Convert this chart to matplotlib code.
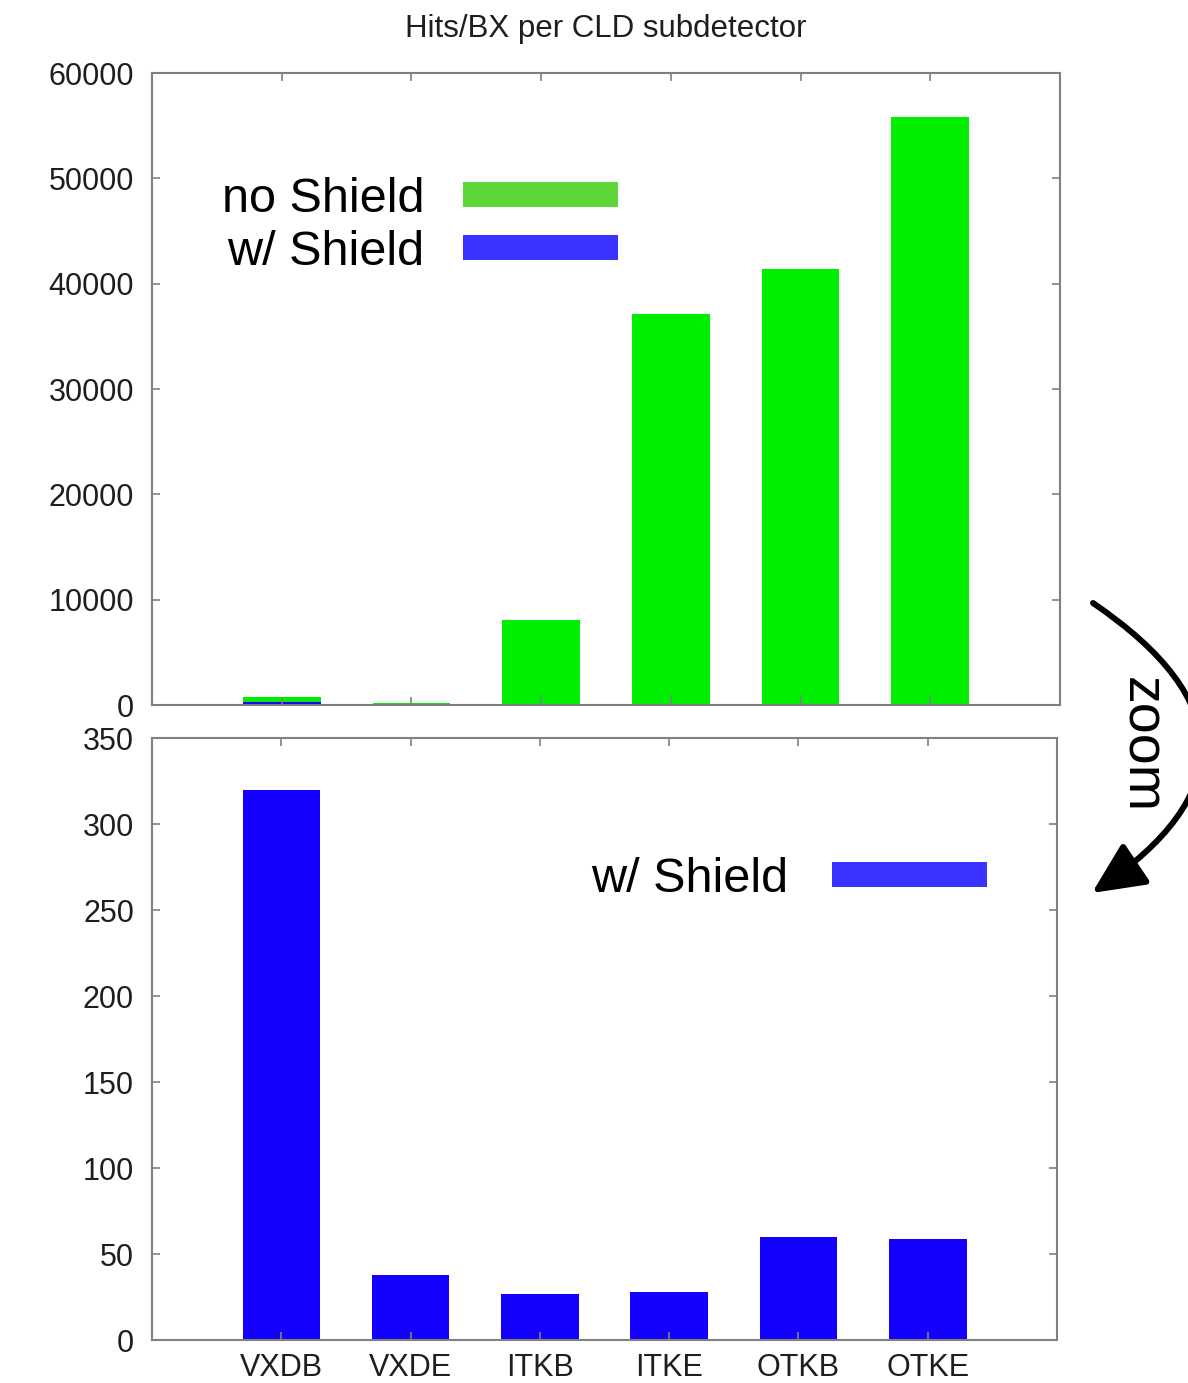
import matplotlib.pyplot as plt
from matplotlib.patches import Patch, FancyArrowPatch

plt.rcParams["font.family"] = ["Liberation Sans", "DejaVu Sans"]

subdetectors = ["VXDB", "VXDE", "ITKB", "ITKE", "OTKB", "OTKE"]
hits_no_shield = [750, 150, 8100, 37100, 41400, 55800]
hits_with_shield = [320, 38, 27, 28, 60, 59]

GREEN = "#00ee00"
BLUE = "#1300ff"
LEG_GREEN = "#5ed63a"
LEG_BLUE = "#3a33ff"
FRAME = "#808080"
TEXT = "#1e1e1e"

W, H = 1188, 1383
fig = plt.figure(figsize=(W / 100, H / 100), dpi=100)

ax_top = fig.add_axes([152 / W, 1 - 705 / H, 908 / W, 632 / H])
ax_bot = fig.add_axes([152 / W, 1 - 1340 / H, 905 / W, 602 / H])

x = list(range(1, len(subdetectors) + 1))
width = 0.6

ax_top.bar(x, hits_no_shield, width=width, color=GREEN)
ax_top.bar(x, hits_with_shield, width=width, color=BLUE)
ax_bot.bar(x, hits_with_shield, width=width, color=BLUE)

ax_top.set_ylim(0, 60000)
ax_top.set_yticks(range(0, 60001, 10000))
ax_bot.set_ylim(0, 350)
ax_bot.set_yticks(range(0, 351, 50))

for ax in (ax_top, ax_bot):
    ax.set_xlim(0, 7)
    ax.set_xticks(x)
    for s in ax.spines.values():
        s.set_color(FRAME)
        s.set_linewidth(1.5)
    ax.tick_params(direction="in", length=6, width=1.2, color=FRAME,
                   top=True, right=True, labelsize=22, labelcolor=TEXT)
    ax.tick_params(axis="y", pad=13)

ax_top.tick_params(labelbottom=False)
ax_bot.tick_params(axis="x", pad=9)
ax_bot.set_xticklabels(subdetectors)

# legends: label on the left, colour swatch on the right
h_no = Patch(facecolor=LEG_GREEN, edgecolor="none")
h_w = Patch(facecolor=LEG_BLUE, edgecolor="none")
leg_kw = dict(loc="upper left", frameon=False, markerfirst=False,
              fontsize=35, handlelength=3.19, handleheight=0.41,
              borderpad=0, borderaxespad=0)
ax_top.legend([h_no, h_w], ["no Shield", "w/ Shield"],
              bbox_to_anchor=(0.077, 0.835), handletextpad=0.8,
              labelspacing=0.15, **leg_kw)
ax_bot.legend([h_w], ["w/ Shield"], bbox_to_anchor=(0.485, 0.802),
              handletextpad=0.9, **leg_kw)

fig.text(606 / W, 1 - 29 / H, "Hits/BX per CLD subdetector", ha="center",
         va="center", fontsize=22.5, color=TEXT)

# curved "zoom" arrow between the panels
arrow = FancyArrowPatch((1093 / W, 1 - 603 / H), (1092 / W, 1 - 893 / H),
                        transform=fig.transFigure,
                        connectionstyle="arc3,rad=-0.74",
                        arrowstyle="-|>,head_length=1.0,head_width=0.47",
                        mutation_scale=32, linewidth=4.3, color="black",
                        shrinkA=0, shrinkB=0)
fig.patches.append(arrow)
fig.text(1140 / W, 1 - 745 / H, "zoom", rotation=-90, ha="center",
         va="center", fontsize=40)

fig.savefig("out.png", dpi=100)
